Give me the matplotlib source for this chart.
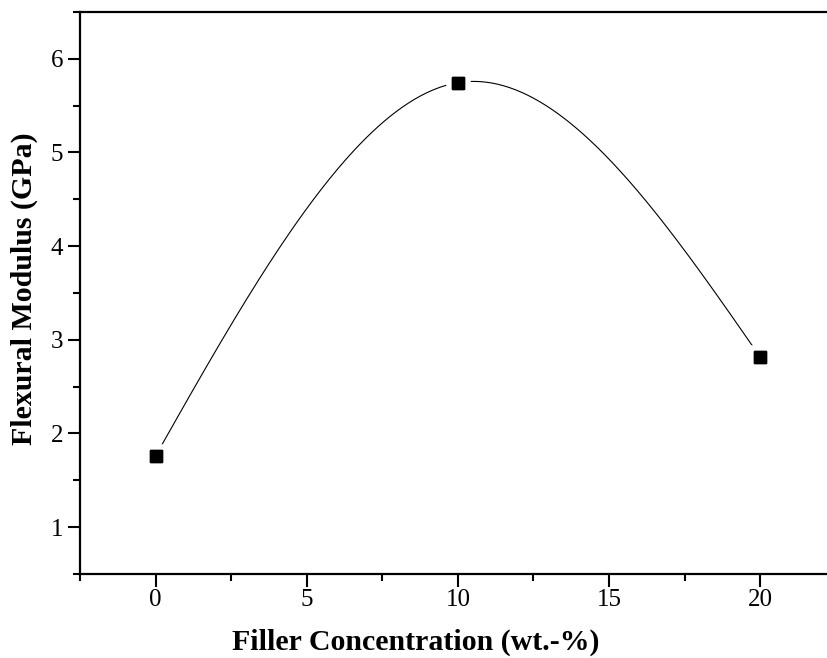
import numpy as np
import matplotlib
matplotlib.use('Agg')
import matplotlib.pyplot as plt
import matplotlib.patheffects as pe
from matplotlib.ticker import MultipleLocator

# data
filler = [0, 10, 20]
modulus = [1.76, 5.745, 2.816]


def natural_spline(xk, yk, n=300):
    # natural cubic spline through the points (Origin "spline" connection)
    xk = np.asarray(xk, float)
    yk = np.asarray(yk, float)
    m = len(xk)
    h = np.diff(xk)
    A = np.zeros((m, m))
    r = np.zeros(m)
    A[0, 0] = 1.0
    A[-1, -1] = 1.0
    for i in range(1, m - 1):
        A[i, i - 1] = h[i - 1]
        A[i, i] = 2 * (h[i - 1] + h[i])
        A[i, i + 1] = h[i]
        r[i] = 6 * ((yk[i + 1] - yk[i]) / h[i] - (yk[i] - yk[i - 1]) / h[i - 1])
    M = np.linalg.solve(A, r)
    xs = np.linspace(xk[0], xk[-1], n)
    ys = np.empty_like(xs)
    for j, x in enumerate(xs):
        i = min(np.searchsorted(xk, x, side='right') - 1, m - 2)
        a = xk[i + 1] - x
        b = x - xk[i]
        hi = h[i]
        ys[j] = (M[i] * a**3 / (6 * hi) + M[i + 1] * b**3 / (6 * hi)
                 + (yk[i] / hi - M[i] * hi / 6) * a
                 + (yk[i + 1] / hi - M[i + 1] * hi / 6) * b)
    return xs, ys


plt.rcParams['font.family'] = ['Liberation Serif', 'DejaVu Serif']

fig = plt.figure(figsize=(8.27, 6.58), dpi=100)
ax = fig.add_axes([0.0967, 0.1277, 0.9139, 0.8541])

xs, ys = natural_spline(filler, modulus)
ax.plot(xs, ys, color='black', lw=0.8)
ax.plot(filler, modulus, ls='none', marker='s', ms=8.6, color='black',
        path_effects=[pe.withStroke(linewidth=9, foreground='white'), pe.Normal()])

ax.set_xlim(-2.5, 22.5)
ax.set_ylim(0.5, 6.5)
ax.xaxis.set_major_locator(MultipleLocator(5))
ax.xaxis.set_minor_locator(MultipleLocator(2.5))
ax.yaxis.set_major_locator(MultipleLocator(1))
ax.yaxis.set_minor_locator(MultipleLocator(0.5))

for s in ['left', 'bottom', 'top', 'right']:
    ax.spines[s].set_linewidth(1.6)
ax.tick_params(which='major', direction='out', length=9, width=1.5,
               labelsize=18)
ax.tick_params(which='minor', direction='out', length=5, width=1.5)
ax.tick_params(axis='x', which='major', pad=1.5)
ax.tick_params(axis='y', which='major', pad=3)
ax.tick_params(which='both', top=False, right=False)

ax.set_xlabel('Filler Concentration (wt.-%)', fontsize=21.5, fontweight='bold')
ax.set_ylabel('Flexural Modulus (GPa)', fontsize=21.5, fontweight='bold')
ax.xaxis.label.set_va('baseline')
ax.xaxis.set_label_coords(0.444, -0.135)
ax.yaxis.set_label_coords(-0.0556, 0.507)

fig.savefig('out.png', dpi=100)
